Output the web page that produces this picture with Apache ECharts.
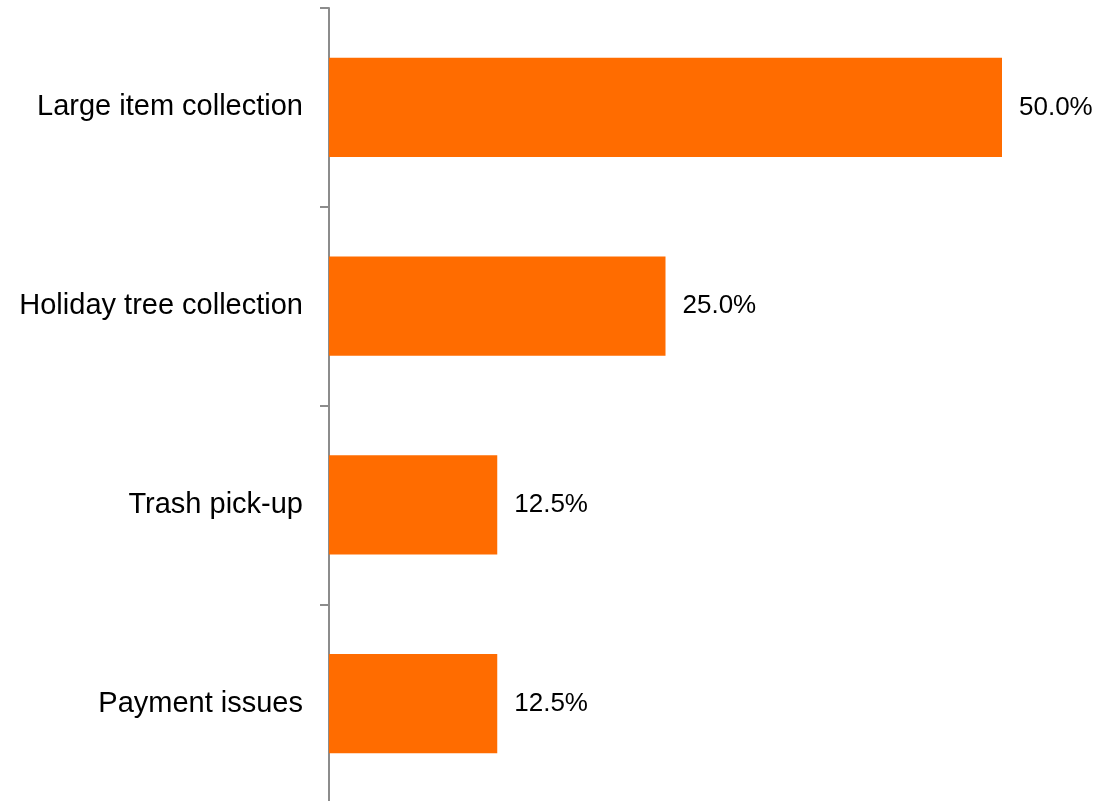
<!DOCTYPE html>
<html>
<head>
<meta charset="utf-8">
<style>
  html, body { margin: 0; padding: 0; background: #ffffff; }
  #chart { width: 1097px; height: 801px; }
</style>
<script src="https://cdn.jsdelivr.net/npm/echarts@6/dist/echarts.min.js"></script>
</head>
<body>
<div id="chart"></div>
<script>
// Share of requests by topic (percent)
const categories = ['Large item collection', 'Holiday tree collection', 'Trash pick-up', 'Payment issues'];
const shares = [50.0, 25.0, 12.5, 12.5];

const chart = echarts.init(document.getElementById('chart'), null, { renderer: 'canvas' });
const font = '"Liberation Sans", Arial, sans-serif';

chart.setOption({
  animation: false,
  backgroundColor: '#ffffff',
  // plot area runs slightly past the bottom edge, so the last tick falls off-canvas
  grid: { left: 329, width: 673, top: 8, height: 795, containLabel: false, outerBoundsMode: 'none' },
  xAxis: {
    type: 'value',
    min: 0,
    max: 50,
    show: false
  },
  yAxis: {
    type: 'category',
    data: categories,
    inverse: true,
    axisLine: { show: true, lineStyle: { color: '#8c8c8c', width: 2 } },
    axisTick: { show: true, length: 9, lineStyle: { color: '#8c8c8c', width: 2 } },
    axisLabel: { margin: 26, color: '#000000', fontSize: 29, fontFamily: font },
    splitLine: { show: false }
  },
  series: [{
    type: 'bar',
    data: shares,
    barCategoryGap: '50%',
    itemStyle: { color: '#ff6c00' },
    label: {
      show: true,
      position: 'right',
      distance: 17,
      color: '#000000',
      fontSize: 26,
      fontFamily: font,
      formatter: p => p.value.toFixed(1) + '%'
    }
  }]
});
</script>
</body>
</html>
